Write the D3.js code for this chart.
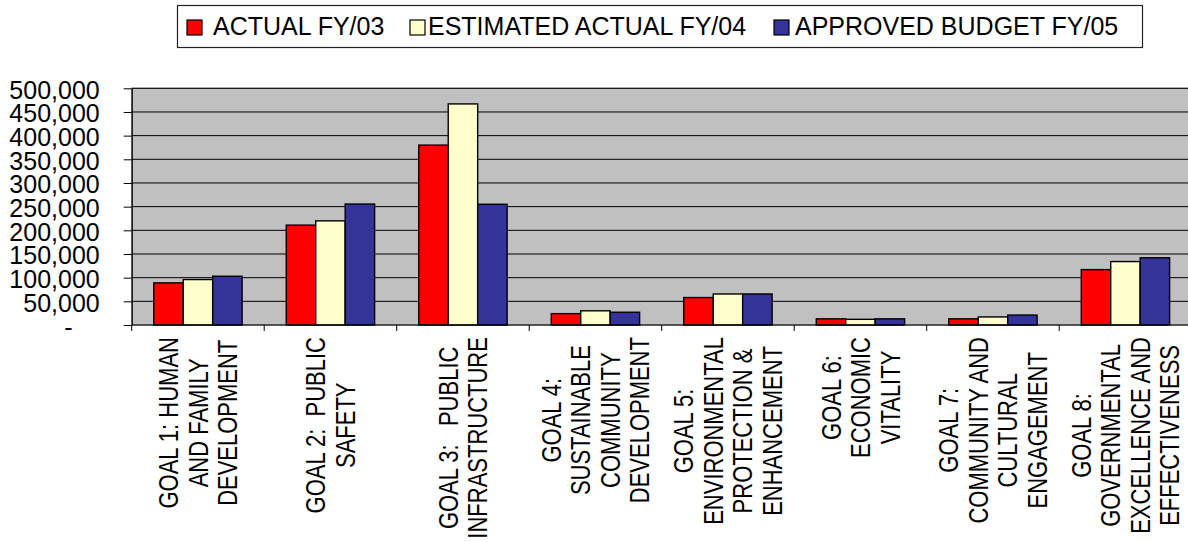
<!DOCTYPE html>
<html>
<head>
<meta charset="utf-8">
<script src="https://cdn.jsdelivr.net/npm/d3@7"></script>
<style>
  html, body { margin: 0; padding: 0; background: #fff; }
  svg { display: block; font-family: "Liberation Sans", Arial, sans-serif; }
  text { white-space: pre; }
</style>
</head>
<body>
<svg id="chart" width="1188" height="542"></svg>
<script>
const categories = ["G1", "G2", "G3", "G4", "G5", "G6", "G7", "G8"];
const categoryLabels = [
  ["GOAL 1: HUMAN", "AND FAMILY", "DEVELOPMENT"],
  ["GOAL 2:  PUBLIC", "SAFETY"],
  ["GOAL 3:   PUBLIC", "INFRASTRUCTURE"],
  ["GOAL 4:", "SUSTAINABLE", "COMMUNITY", "DEVELOPMENT"],
  ["GOAL 5:", "ENVIRONMENTAL", "PROTECTION &", "ENHANCEMENT"],
  ["GOAL 6:", "ECONOMIC", "VITALITY"],
  ["GOAL 7:", "COMMUNITY AND", "CULTURAL", "ENGAGEMENT"],
  ["GOAL 8:", "GOVERNMENTAL", "EXCELLENCE AND", "EFFECTIVENESS"]
];
const seriesNames = ["ACTUAL FY/03", "ESTIMATED ACTUAL FY/04", "APPROVED BUDGET FY/05"];
const actualFY03 = [89000, 211000, 380000, 24000, 58000, 13000, 13000, 117000];
const estimatedFY04 = [96000, 220000, 467000, 30000, 65500, 12000, 17000, 134000];
const budgetFY05 = [103000, 255500, 255000, 27000, 65500, 13000, 21000, 142000];
const yTicks = [0, 50000, 100000, 150000, 200000, 250000, 300000, 350000, 400000, 450000, 500000];
const yTickLabels = ["-", "50,000", "100,000", "150,000", "200,000", "250,000", "300,000", "350,000", "400,000", "450,000", "500,000"];

const seriesValues = [actualFY03, estimatedFY04, budgetFY05];
const colors = ["#FF0000", "#FFFFCC", "#333399"];

const svg = d3.select("#chart");
const plotL = 131.7, plotT = 88.3, plotB = 325, plotR = 1191.7;

const x = d3.scaleBand().domain(categories).range([plotL, plotR]).paddingInner(0).paddingOuter(0);
const xs = d3.scaleBand().domain(d3.range(seriesNames.length)).range([0, x.bandwidth()]).paddingInner(0).paddingOuter(0.75);
const y = d3.scaleLinear().domain([0, 500000]).range([plotB, plotT]);

// plot background
svg.append("rect")
  .attr("x", plotL).attr("y", plotT)
  .attr("width", plotR - plotL).attr("height", plotB - plotT)
  .attr("fill", "#C0C0C0").attr("stroke", "#808080").attr("stroke-width", 1.2);

// gridlines
svg.append("g").selectAll("line")
  .data(yTicks.filter(d => d > 0))
  .join("line")
  .attr("x1", plotL).attr("x2", plotR)
  .attr("y1", d => y(d)).attr("y2", d => y(d))
  .attr("stroke", "#000").attr("stroke-width", 1);

// bars
const rows = categories.map((c, i) => ({ c, vals: seriesValues.map(s => s[i]) }));
const groups = svg.append("g").selectAll("g")
  .data(rows).join("g")
  .attr("transform", d => `translate(${x(d.c)},0)`);
groups.selectAll("rect")
  .data(d => d.vals.map((v, k) => ({ v, k })))
  .join("rect")
  .attr("x", d => xs(d.k))
  .attr("width", xs.bandwidth())
  .attr("y", d => y(d.v))
  .attr("height", d => y(0) - y(d.v))
  .attr("fill", d => colors[d.k])
  .attr("stroke", "#000").attr("stroke-width", 1.4);

// y axis
const yAxis = svg.append("g")
  .attr("transform", `translate(${plotL},0)`)
  .call(d3.axisLeft(y).tickValues(yTicks)
    .tickFormat((d, i) => yTickLabels[i])
    .tickSize(8).tickSizeOuter(0).tickPadding(24));
yAxis.select(".domain").attr("stroke", "#000").attr("stroke-width", 1.2);
yAxis.selectAll(".tick line").attr("stroke", "#000");
yAxis.selectAll(".tick text")
  .attr("font-size", 25).attr("fill", "#000").attr("font-family", "Liberation Sans, Arial, sans-serif")
  .attr("dy", "0.4em")
  .attr("dx", d => d === 0 ? -27 : 0);

// x axis line + ticks between categories
svg.append("line")
  .attr("x1", plotL).attr("x2", plotR)
  .attr("y1", plotB).attr("y2", plotB)
  .attr("stroke", "#000").attr("stroke-width", 1.2);
svg.append("g").selectAll("line")
  .data(categories)
  .join("line")
  .attr("x1", d => x(d)).attr("x2", d => x(d))
  .attr("y1", plotB).attr("y2", plotB + 6)
  .attr("stroke", "#000").attr("stroke-width", 1);

// x category labels (rotated, multi-line, centered lines, block top-aligned)
const labFont = 27, labScale = 0.815, lineGap = 29.5, blockTop = 337, capH = 19.3;
categories.forEach((c, i) => {
  const lines = categoryLabels[i];
  const cx = x(c) + x.bandwidth() / 2;
  const g = svg.append("g");
  const texts = lines.map((ln, j) => {
    const lx = cx + (j - (lines.length - 1) / 2) * lineGap + capH / 2;
    return g.append("text")
      .attr("font-size", labFont)
      .attr("fill", "#000")
      .attr("text-anchor", "middle")
      .text(ln)
      .datum(lx);
  });
  const maxLen = d3.max(texts, t => t.node().getComputedTextLength()) * labScale;
  const midY = blockTop + maxLen / 2;
  texts.forEach(t => {
    const lx = t.datum();
    t.attr("transform", `translate(${lx},${midY}) rotate(-90) scale(${labScale},1)`);
  });
});

// legend
const legend = svg.append("g");
legend.append("rect")
  .attr("x", 177.5).attr("y", 5.5).attr("width", 965).attr("height", 42)
  .attr("fill", "#fff").attr("stroke", "#222").attr("stroke-width", 1.2);
const swatchX = [187, 410, 774];
const textX = [213, 428, 795];
seriesNames.forEach((n, k) => {
  legend.append("rect")
    .attr("x", swatchX[k]).attr("y", 20).attr("width", 15).attr("height", 15)
    .attr("fill", colors[k]).attr("stroke", "#000").attr("stroke-width", 1.2);
  legend.append("text")
    .attr("x", textX[k]).attr("y", 35)
    .attr("font-size", 25).attr("fill", "#000")
    .text(n);
});
</script>
</body>
</html>
